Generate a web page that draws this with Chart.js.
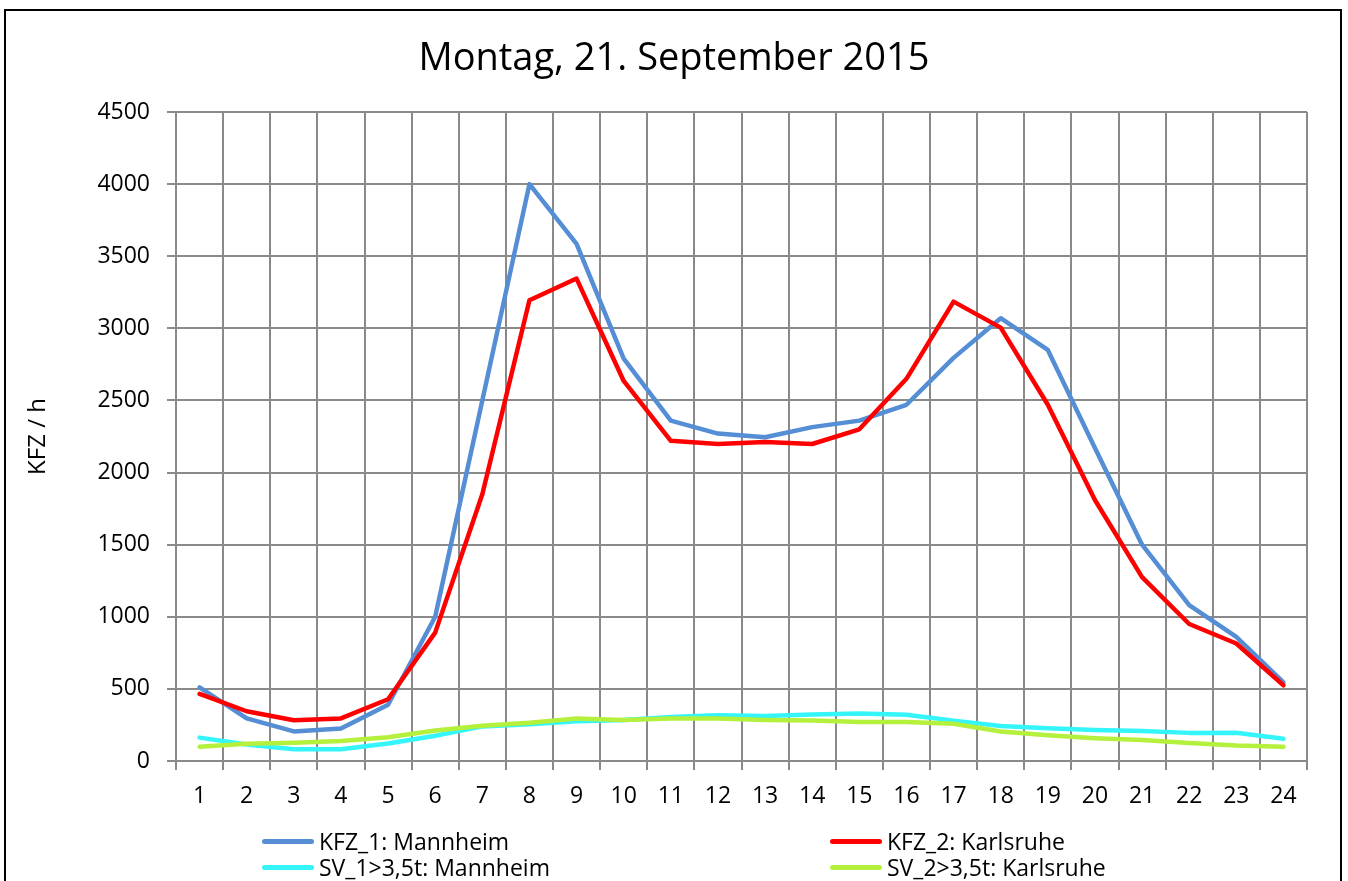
<!DOCTYPE html>
<html>
<head>
<meta charset="utf-8">
<script src="https://cdn.jsdelivr.net/npm/chart.js@4.4.1/dist/chart.umd.min.js"></script>
<style>
    html, body { margin: 0; padding: 0; background: #fff; overflow: hidden; }
    #wrap { position: relative; width: 1348px; height: 881px; }
    #frame {
        position: absolute; left: 4px; top: 9px; width: 1334px; height: 900px;
        border: 2px solid #000; pointer-events: none;
    }
    .leg { position: absolute; height: 30px; display: flex; align-items: center;
        font-family: "Open Sans", sans-serif; font-size: 23px; color: #000; white-space: nowrap; }
    .leg span.line { display: inline-block; width: 52px; height: 5px; border-radius: 3px; margin-right: 5px; }
</style>
</head>
<body>
<div id="wrap">
    <canvas id="trafficChart" width="1348" height="881"></canvas>
    <div id="frame"></div>
    <div id="legend"></div>
</div>
<script>
// === Daten (Stunden 1..24) ===
const hours = ["1", "2", "3", "4", "5", "6", "7", "8", "9", "10", "11", "12",
    "13", "14", "15", "16", "17", "18", "19", "20", "21", "22", "23", "24"];
const kfz1Mannheim = [510, 295, 205, 225, 390, 1000, 2500, 4000, 3585, 2790, 2360, 2270,
    2245, 2315, 2360, 2470, 2795, 3070, 2850, 2170, 1500, 1080, 860, 545];
const kfz2Karlsruhe = [465, 345, 282, 295, 428, 890, 1850, 3195, 3345, 2635, 2220, 2198,
    2212, 2198, 2300, 2650, 3185, 3005, 2470, 1810, 1275, 950, 815, 525];
const sv1Mannheim = [162, 115, 81, 81, 122, 175, 240, 255, 275, 284, 305, 318,
    312, 322, 330, 320, 280, 243, 227, 215, 208, 195, 196, 155];
const sv2Karlsruhe = [99, 120, 127, 139, 165, 212, 245, 265, 295, 285, 295, 295,
    285, 280, 270, 270, 258, 205, 178, 158, 145, 125, 108, 99];
const yTicks = [0, 500, 1000, 1500, 2000, 2500, 3000, 3500, 4000, 4500];

const seriesNames = ["KFZ_1: Mannheim", "KFZ_2: Karlsruhe", "SV_1>3,5t: Mannheim", "SV_2>3,5t: Karlsruhe"];
const seriesColors = ["#558ed5", "#ff0000", "#33f5fa", "#b4f03c"];

const gridColor = "#8a8a8a";
const font = "'Open Sans', sans-serif";

function line(label, data, color) {
    return {
        label: label,
        data: data,
        borderColor: color,
        backgroundColor: color,
        borderWidth: 4.5,
        tension: 0,
        fill: false,
        pointRadius: 0,
        borderCapStyle: "round",
        borderJoinStyle: "round",
    };
}

const ctx = document.getElementById("trafficChart").getContext("2d");
new Chart(ctx, {
    type: "line",
    data: {
        labels: hours,
        datasets: [
            // Reihenfolge wie im Original: SV unten, KFZ oben
            line(seriesNames[3], sv2Karlsruhe, seriesColors[3]),
            line(seriesNames[2], sv1Mannheim, seriesColors[2]),
            line(seriesNames[1], kfz2Karlsruhe, seriesColors[1]),
            line(seriesNames[0], kfz1Mannheim, seriesColors[0]),
        ],
    },
    options: {
        responsive: false,
        devicePixelRatio: 1,
        animation: false,
        layout: { padding: 0 },
        plugins: {
            legend: { display: false },
            tooltip: { enabled: false },
            title: {
                display: true,
                text: "Montag, 21. September 2015",
                color: "#000",
                font: { family: font, size: 38, weight: "normal" },
                padding: { top: 36, bottom: 30.4 },
            },
        },
        scales: {
            x: {
                offset: true,
                grid: { offset: true, color: gridColor, lineWidth: 2, tickLength: 9 },
                border: { color: gridColor, width: 2 },
                ticks: { color: "#000", font: { family: font, size: 23 }, padding: 13, maxRotation: 0 },
                afterFit: (s) => { s.height = 120; },
            },
            y: {
                min: 0,
                max: 4500,
                afterBuildTicks: (s) => { s.ticks = yTicks.map((v) => ({ value: v })); },
                grid: { color: gridColor, lineWidth: 2, tickLength: 9 },
                border: { color: gridColor, width: 2 },
                ticks: {
                    color: "#000",
                    font: { family: font, size: 23 },
                    padding: 17,
                    callback: (v) => String(v),
                },
                title: {
                    display: true,
                    text: "KFZ / h",
                    color: "#000",
                    font: { family: font, size: 24 },
                    padding: { top: 24, bottom: 0 },
                },
                afterFit: (s) => { s.width = 176; },
            },
            // leere Achse rechts, nur als Rand, damit der Titel ueber die ganze Breite zentriert bleibt
            rand: {
                position: "right",
                display: true,
                grid: { display: false },
                border: { display: false },
                ticks: { display: false },
                afterFit: (s) => { s.width = 41; },
            },
        },
    },
});

// === Legende (zwei Spalten wie im Original) ===
const legendPos = [
    { left: 262, top: 826 },
    { left: 830, top: 826 },
    { left: 262, top: 852 },
    { left: 830, top: 852 },
];
const legendEl = document.getElementById("legend");
seriesNames.forEach((name, i) => {
    const item = document.createElement("div");
    item.className = "leg";
    item.style.left = legendPos[i].left + "px";
    item.style.top = legendPos[i].top + "px";
    item.innerHTML = '<span class="line" style="background:' + seriesColors[i] + '"></span>' + name;
    legendEl.appendChild(item);
});
</script>
</body>
</html>
